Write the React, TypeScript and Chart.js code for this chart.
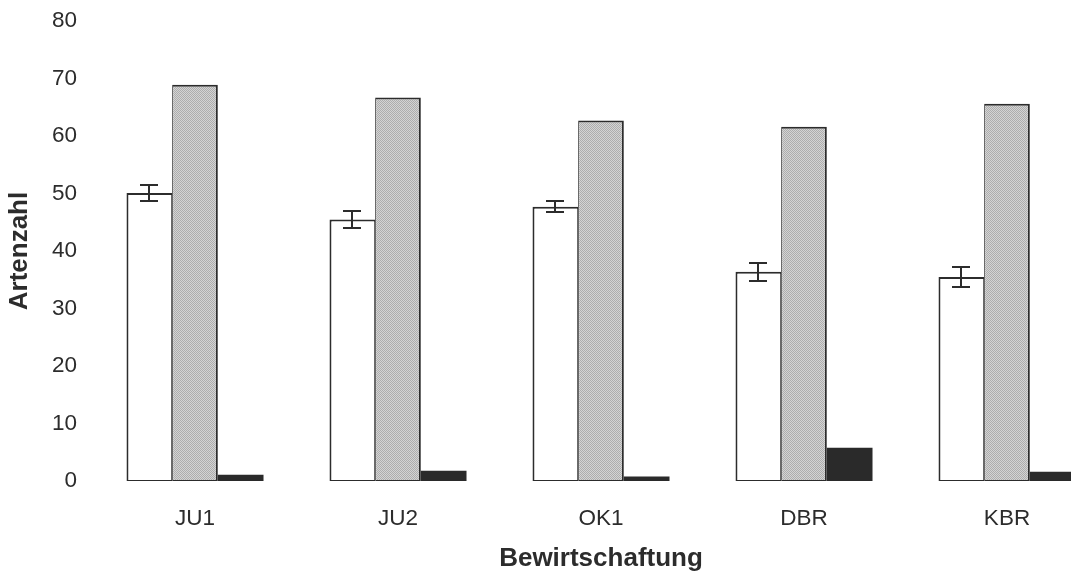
import React, { useEffect, useRef } from 'react';
import { Chart, registerables } from 'chart.js';

Chart.register(...registerables);

// Management types (x categories)
const categories = ['JU1', 'JU2', 'OK1', 'DBR', 'KBR'];
// Mean species number per plot, with its error
const meanSpecies = [50.1, 45.5, 47.7, 36.4, 35.5];
const meanSpeciesError = [1.4, 1.5, 1.0, 1.6, 1.7];
// Total species number per management type
const totalSpecies = [68.9, 66.7, 62.7, 61.6, 65.6];
// Species found only in this management type
const exclusiveSpecies = [1.1, 1.8, 0.8, 5.8, 1.6];
// Value axis
const yMin = 0;
const yMax = 80;
const yStep = 10;

const INK = '#2c2c2c';
const FONT = '"Liberation Sans", Arial, Helvetica, sans-serif';

function makeStipple(target: CanvasRenderingContext2D): CanvasPattern | string {
  const tile = document.createElement('canvas');
  tile.width = 2;
  tile.height = 2;
  const t = tile.getContext('2d');
  if (!t) return '#c4c4c4';
  t.fillStyle = '#d4d4d4';
  t.fillRect(0, 0, 2, 2);
  t.fillStyle = '#adadad';
  t.fillRect(0, 0, 1, 1);
  t.fillRect(1, 1, 1, 1);
  return target.createPattern(tile, 'repeat') || '#c4c4c4';
}

const errorBars = {
  id: 'errorBars',
  afterDatasetsDraw(chart: any) {
    const meta = chart.getDatasetMeta(0);
    const y = chart.scales.y;
    const ctx = chart.ctx as CanvasRenderingContext2D;
    const half = 9;
    ctx.save();
    ctx.strokeStyle = INK;
    ctx.lineWidth = 2;
    meta.data.forEach((bar: any, i: number) => {
      const top = Math.round(y.getPixelForValue(meanSpecies[i] + meanSpeciesError[i]));
      const bot = Math.round(y.getPixelForValue(meanSpecies[i] - meanSpeciesError[i]));
      const x = Math.round(bar.x);
      ctx.beginPath();
      ctx.moveTo(x, top);
      ctx.lineTo(x, bot);
      ctx.moveTo(x - half, top);
      ctx.lineTo(x + half, top);
      ctx.moveTo(x - half, bot);
      ctx.lineTo(x + half, bot);
      ctx.stroke();
    });
    ctx.restore();
  },
};

export default function App() {
  const canvasRef = useRef<HTMLCanvasElement | null>(null);

  useEffect(() => {
    const canvas = canvasRef.current;
    if (!canvas) return;
    const ctx = canvas.getContext('2d');
    if (!ctx) return;
    const stipple = makeStipple(ctx);

    const chart = new Chart(ctx, {
      type: 'bar',
      data: {
        labels: categories,
        datasets: [
          {
            label: 'Mittlere Artenzahl',
            data: meanSpecies,
            backgroundColor: '#ffffff',
            borderColor: INK,
            borderWidth: { top: 2, left: 2, right: 1, bottom: 1 },
            borderSkipped: false,
          },
          {
            label: 'Gesamtartenzahl',
            data: totalSpecies,
            backgroundColor: stipple as any,
            borderColor: INK,
            borderWidth: { top: 2, left: 1, right: 2, bottom: 1 },
            borderSkipped: false,
          },
          {
            label: 'Exklusive Arten',
            data: exclusiveSpecies,
            backgroundColor: '#2a2a2a',
            borderColor: '#2a2a2a',
            borderWidth: 0,
            borderSkipped: false,
          },
        ],
      },
      options: {
        animation: false,
        responsive: true,
        maintainAspectRatio: false,
        layout: { padding: { top: 21, right: 1.5, bottom: 0, left: 0 } },
        datasets: {
          bar: { categoryPercentage: 0.675, barPercentage: 1.0 },
        },
        plugins: {
          legend: { display: false },
          tooltip: { enabled: false },
        },
        scales: {
          x: {
            grid: { display: false, drawTicks: false },
            border: { display: false },
            ticks: {
              color: INK,
              padding: 24,
              font: { family: FONT, size: 22.5 },
            },
            title: {
              display: true,
              text: 'Bewirtschaftung',
              color: INK,
              font: { family: FONT, size: 26, weight: 'bold' },
              padding: { top: 0, bottom: 1 },
            },
            afterFit: (scale: any) => {
              scale.height = 94;
            },
          },
          y: {
            min: yMin,
            max: yMax,
            grid: { display: false, drawTicks: false },
            border: { display: false },
            ticks: {
              stepSize: yStep,
              color: INK,
              padding: 16.5,
              font: { family: FONT, size: 22.5 },
            },
            title: {
              display: true,
              text: 'Artenzahl',
              color: INK,
              font: { family: FONT, size: 26, weight: 'bold' },
              padding: { top: 4, bottom: 0 },
            },
            afterFit: (scale: any) => {
              scale.width = 93.5;
              scale.paddingTop = 0;
              scale.paddingBottom = 0;
            },
          },
        },
      },
      plugins: [errorBars],
    });

    return () => chart.destroy();
  }, []);

  return (
    <div
      style={{
        position: 'fixed',
        left: 0,
        top: 0,
        width: 1071,
        height: 575,
        overflow: 'hidden',
        background: '#ffffff',
      }}
    >
      <div style={{ position: 'relative', width: 1110, height: 575 }}>
        <canvas ref={canvasRef} />
      </div>
    </div>
  );
}
